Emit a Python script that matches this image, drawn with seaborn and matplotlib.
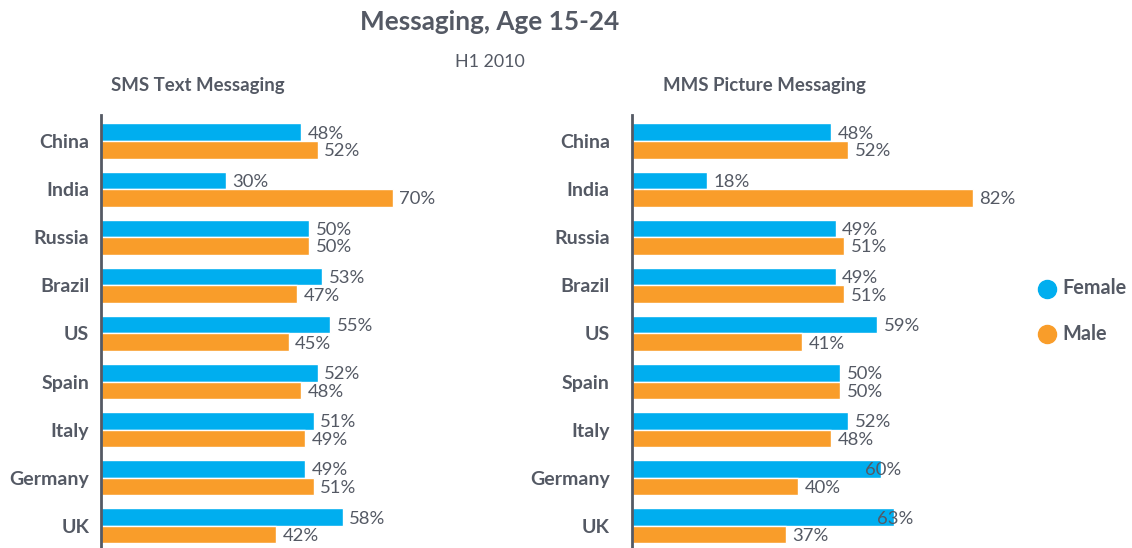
import matplotlib
matplotlib.use("Agg")
import matplotlib.pyplot as plt
from matplotlib.lines import Line2D
import seaborn as sns
import pandas as pd

countries = ["China", "India", "Russia", "Brazil", "US", "Spain", "Italy", "Germany", "UK"]
sms_female = [48, 30, 50, 53, 55, 52, 51, 49, 58]
sms_male = [52, 70, 50, 47, 45, 48, 49, 51, 42]
mms_female = [48, 18, 49, 49, 59, 50, 52, 60, 63]
mms_male = [52, 82, 51, 51, 41, 50, 48, 40, 37]
genders = ["Female", "Male"]
panel_titles = ["SMS Text Messaging", "MMS Picture Messaging"]

BLUE = "#00AEEF"
ORANGE = "#F99D2A"
TXT = "#545964"

sns.set_theme(style="white")
plt.rcParams["font.family"] = ["Lato", "DejaVu Sans"]

W, H = 1132, 548
fig = plt.figure(figsize=(W / 100, H / 100), dpi=100)


def make_df(fem, mal):
    rows = []
    for c, f, m in zip(countries, fem, mal):
        rows.append({"country": c, "gender": "Female", "value": f})
        rows.append({"country": c, "gender": "Male", "value": m})
    return pd.DataFrame(rows)


panels = [(sms_female, sms_male, 101, 375, 8.5), (mms_female, mms_male, 632, 374, 16)]
for i, (fem, mal, x0, ax_w, pad) in enumerate(panels):
    ax = fig.add_axes([x0 / W, 0, ax_w / W, (H - 115) / H])
    df = make_df(fem, mal)
    sns.barplot(data=df, y="country", x="value", hue="gender", order=countries,
                hue_order=genders, palette=[BLUE, ORANGE], orient="h", width=0.73,
                saturation=1, ax=ax, legend=False, errorbar=None)
    ax.set_xlim(0, 90)
    ax.set_ylim(8.46, -0.54)
    ax.set_xlabel("")
    ax.set_ylabel("")
    ax.set_xticks([])
    ax.tick_params(axis="y", length=0, pad=pad)
    for lab in ax.get_yticklabels():
        lab.set_fontweight("bold")
        lab.set_fontsize(14)
        lab.set_color(TXT)
    for s in ["top", "right", "bottom"]:
        ax.spines[s].set_visible(False)
    ax.spines["left"].set_color(TXT)
    ax.spines["left"].set_linewidth(2)
    for k, (cont, vals) in enumerate(zip(ax.containers, [fem, mal])):
        for j, (p, v) in enumerate(zip(cont.patches, vals)):
            xv = p.get_width()
            # reference quirk: large MMS female labels overlap the bar end
            if i == 1 and k == 0 and j >= 7:
                xv = xv - 4
            else:
                xv = xv + 1.6
            ax.text(xv, p.get_y() + p.get_height() / 2 + 0.03, f"{v}%",
                    ha="left", va="center", fontsize=13.3, color=TXT)

fig.text(490 / W, 1 - 22 / H, "Messaging, Age 15-24", ha="center", va="center",
         fontsize=18.8, fontweight="bold", color=TXT)
fig.text(490 / W, 1 - 62 / H, "H1 2010", ha="center", va="center",
         fontsize=12.8, color=TXT)
fig.text(111 / W, 1 - 85 / H, panel_titles[0], ha="left", va="center",
         fontsize=13.4, fontweight="bold", color=TXT)
fig.text(663 / W, 1 - 85 / H, panel_titles[1], ha="left", va="center",
         fontsize=13.4, fontweight="bold", color=TXT)

handles = [Line2D([], [], marker="o", linestyle="", markersize=13,
                  markerfacecolor=c, markeredgecolor=c) for c in [BLUE, ORANGE]]
leg = fig.legend(handles, genders, loc="center left",
                 bbox_to_anchor=(1039 / W, 1 - 311 / H), frameon=False,
                 labelspacing=1.65, handletextpad=0.5, handlelength=1.0,
                 borderaxespad=0, borderpad=0)
for t in leg.get_texts():
    t.set_fontweight("bold")
    t.set_fontsize(14.3)
    t.set_color(TXT)

fig.savefig("out.png", dpi=100)
